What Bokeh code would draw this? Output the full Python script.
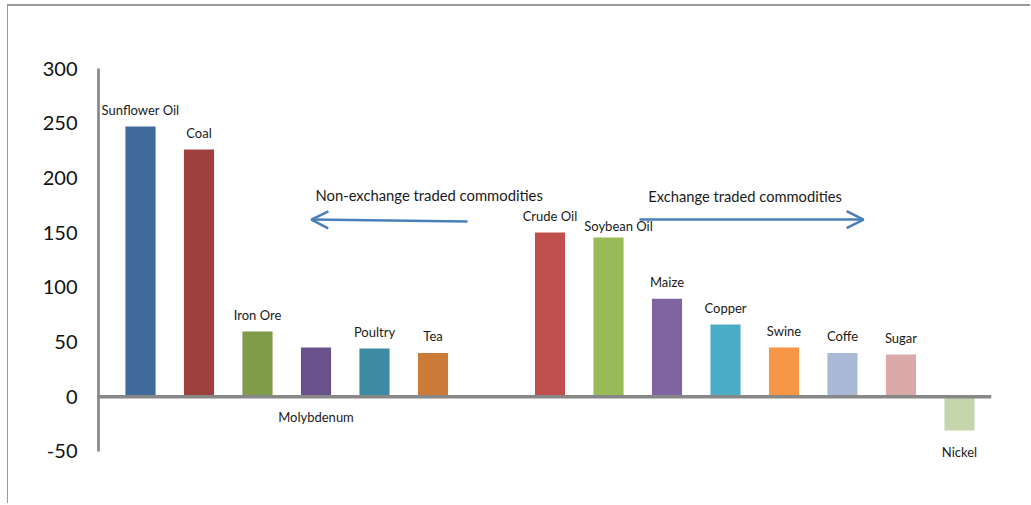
from bokeh.plotting import figure
from bokeh.models import ColumnDataSource, FixedTicker, Span, Arrow, OpenHead, Label
from bokeh.core.properties import value
from bokeh.embed import file_html
from bokeh.resources import INLINE

# ---- data ----
non_exchange = ["Sunflower Oil", "Coal", "Iron Ore", "Molybdenum", "Poultry", "Tea"]
non_exchange_values = [247, 226, 59.5, 45, 44, 40]
exchange = ["Crude Oil", "Soybean Oil", "Maize", "Copper", "Swine", "Coffe", "Sugar", "Nickel"]
exchange_values = [150, 145.5, 89.5, 66, 45, 40, 38.5, -31]
y_ticks = [-50, 0, 50, 100, 150, 200, 250, 300]
group_labels = ["Non-exchange traded commodities", "Exchange traded commodities"]

# ---- styles ----
non_exchange_colors = ["#406a9b", "#9e413e", "#7f9a48", "#69518b", "#3d8ba3", "#cc7b38"]
exchange_colors = ["#c0504d", "#9bbb59", "#8064a2", "#4bacc6", "#f79646", "#aab9d6", "#daa9a9", "#c6d6ab"]
labels_below_axis = {"Molybdenum"}
label_nudge = {"Soybean Oil": (10, 5)}
FONT = "Lato"
AXIS_GREY = "#878787"
ARROW_BLUE = "#4a7ebb"

names = non_exchange + exchange
vals = non_exchange_values + exchange_values
colors = non_exchange_colors + exchange_colors
xs = list(range(len(non_exchange))) + [len(non_exchange) + 1 + j for j in range(len(exchange))]

label_y, x_off, y_off = [], [], []
for n, v in zip(names, vals):
    dx, dy = label_nudge.get(n, (0, 0))
    if n in labels_below_axis:
        label_y.append(0)
        y_off.append(20 + dy)
    elif v < 0:
        label_y.append(v)
        y_off.append(21 + dy)
    else:
        label_y.append(v)
        y_off.append(-16.5 + dy)
    x_off.append(dx)

src = ColumnDataSource(dict(x=xs, top=vals, name=names, color=colors,
                            ly=label_y, xo=x_off, yo=y_off))

p = figure(width=1023, height=499, output_backend="svg", toolbar_location=None,
           x_range=(-0.718, 14.547), y_range=(-62, 300),
           min_border_left=90, min_border_top=62, min_border_bottom=41, min_border_right=40)
p.margin = (4, 0, 0, 7)
p.styles = {"border-left": "1px solid #9a9a9a", "border-top": "2px solid #9a9a9a"}
p.outline_line_color = None
p.xgrid.visible = False
p.ygrid.visible = False
p.xaxis.visible = False

ya = p.yaxis[0]
ya.ticker = FixedTicker(ticks=y_ticks)
ya.bounds = (min(y_ticks), max(y_ticks))
ya.major_label_overrides = {t: str(t) for t in y_ticks}
ya.axis_line_color = AXIS_GREY
ya.axis_line_width = 2.7
ya.major_tick_line_color = None
ya.minor_tick_line_color = None
ya.major_tick_out = 0
ya.major_tick_in = 0
ya.major_label_standoff = 21
ya.major_label_text_font = FONT
ya.major_label_text_font_size = "20px"
ya.major_label_text_color = "#111111"

p.vbar(x="x", top="top", bottom=0, width=0.515, color="color", line_color=None, source=src)

p.add_layout(Span(location=0, dimension="width", line_color=AXIS_GREY, line_width=3.5))

p.text(x="x", y="ly", text="name", x_offset="xo", y_offset="yo", source=src,
       text_align="center", text_baseline="middle",
       text_font=value(FONT), text_font_size="13px", text_color="#1a1a1a")

# group arrows and captions
p.add_layout(Arrow(end=OpenHead(size=17, line_color=ARROW_BLUE, line_width=2.5),
                   x_start=5.59, y_start=160.1, x_end=2.92, y_end=161.9,
                   line_color=ARROW_BLUE, line_width=2.5))
p.add_layout(Arrow(end=OpenHead(size=17, line_color=ARROW_BLUE, line_width=2.5),
                   x_start=8.53, y_start=161.9, x_end=12.36, y_end=161.9,
                   line_color=ARROW_BLUE, line_width=2.5))
p.add_layout(Label(x=2.99, y=184.8, text=group_labels[0], text_align="left",
                   text_baseline="middle", text_font=FONT, text_font_size="14.8px",
                   text_color="#1a1a1a"))
p.add_layout(Label(x=8.68, y=183.8, text=group_labels[1], text_align="left",
                   text_baseline="middle", text_font=FONT, text_font_size="14.7px",
                   text_color="#1a1a1a"))

open("out.html", "w").write(file_html(p, INLINE))
